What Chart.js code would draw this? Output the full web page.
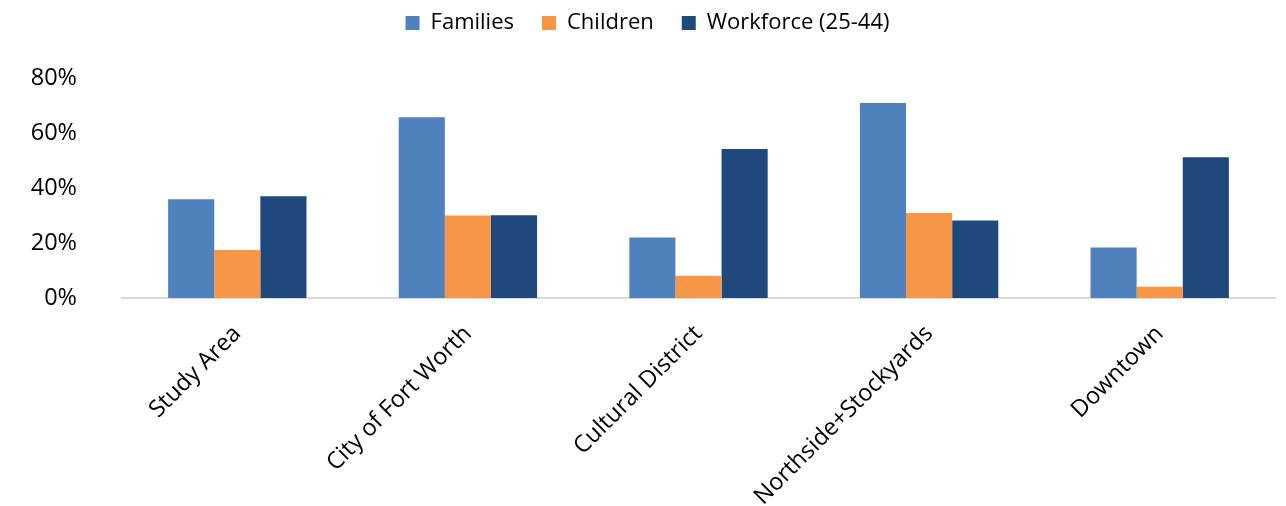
<!DOCTYPE html>
<html>
<head>
<meta charset="utf-8">
<script src="https://cdn.jsdelivr.net/npm/chart.js@4/dist/chart.umd.min.js"></script>
<style>
  html, body { margin: 0; padding: 0; background: #ffffff; }
  #wrap { width: 1286px; height: 506px; position: relative; }
</style>
</head>
<body>
<div id="wrap"><canvas id="c" width="1286" height="506"></canvas></div>
<script>
const categories = ["Study Area", "City of Fort Worth", "Cultural District", "Northside+Stockyards", "Downtown"];
const families = [35.9, 65.7, 22.0, 70.9, 18.4];
const children = [17.5, 30.0, 8.1, 30.9, 4.1];
const workforce = [37.0, 30.1, 54.2, 28.2, 51.2];
const seriesNames = ["Families", "Children", "Workforce (25-44)"];
const yTicks = [0, 20, 40, 60, 80];

const font = "'Open Sans', 'Noto Sans', sans-serif";
Chart.defaults.font.family = font;
Chart.defaults.color = "#000000";

const legendSize = {
  id: 'legendSize',
  beforeInit(chart) {
    const orig = chart.legend.fit;
    chart.legend.fit = function () {
      orig.call(this);
      this.height = 94;
    };
  },
  afterLayout(chart) {
    chart.legend.left += 10;
    chart.legend.right += 10;
  }
};

new Chart(document.getElementById('c'), {
  type: 'bar',
  data: {
    labels: categories,
    datasets: [
      { label: seriesNames[0], data: families, backgroundColor: '#4F81BD' },
      { label: seriesNames[1], data: children, backgroundColor: '#F79646' },
      { label: seriesNames[2], data: workforce, backgroundColor: '#1F497D' }
    ]
  },
  plugins: [legendSize],
  options: {
    responsive: false,
    animation: false,
    devicePixelRatio: 1,
    layout: { padding: { left: 0, right: 11, top: -16, bottom: 0 } },
    datasets: { bar: { categoryPercentage: 0.6, barPercentage: 1.0 } },
    plugins: {
      legend: {
        position: 'top',
        labels: { boxWidth: 14, boxHeight: 14, padding: 28, font: { size: 22, family: font }, color: '#000' }
      },
      tooltip: { enabled: false }
    },
    scales: {
      x: {
        grid: { display: false, drawTicks: false },
        border: { display: true, color: '#d9d9d9', width: 2 },
        afterFit: (axis) => { axis.height = 208; },
        ticks: { maxRotation: 45, minRotation: 45, padding: 22, font: { size: 23.5, family: font }, color: '#000' }
      },
      y: {
        min: 0, max: 80,
        afterBuildTicks: (axis) => { axis.ticks = yTicks.map(v => ({ value: v })); },
        afterFit: (axis) => { axis.width = 122; },
        grid: { display: false, drawTicks: false },
        border: { display: false },
        ticks: { padding: 45, font: { size: 23.5, family: font }, color: '#000', callback: (v) => v + '%' }
      }
    }
  }
});
</script>
</body>
</html>
